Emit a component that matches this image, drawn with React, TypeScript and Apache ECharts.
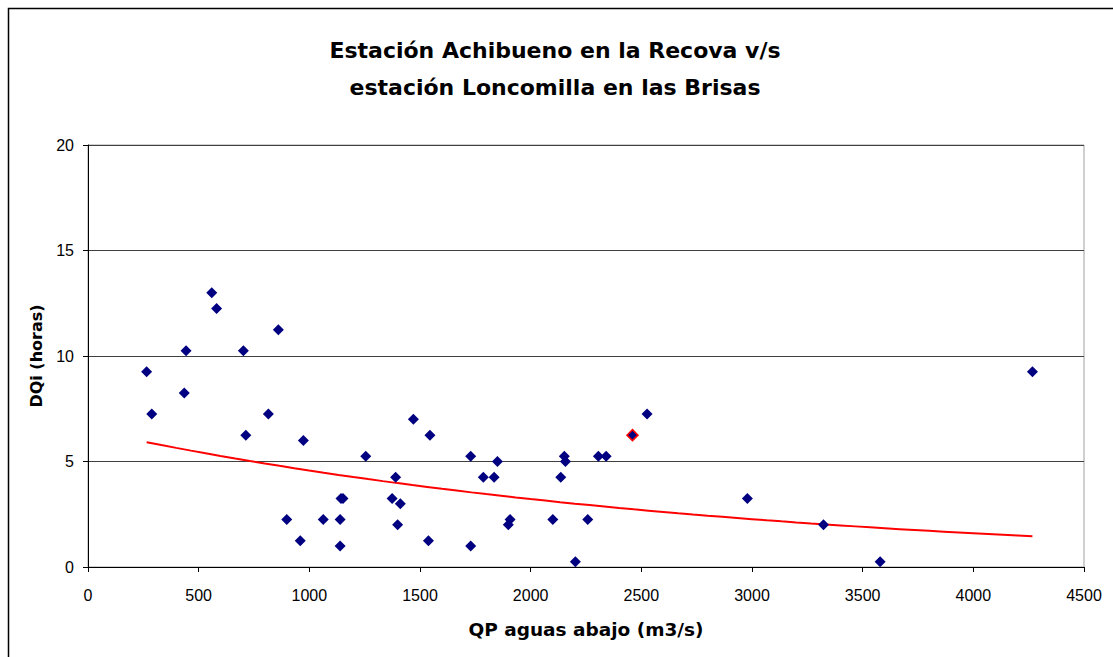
import React, { useEffect, useRef } from "react";
import * as echarts from "echarts";

const titleText = "Estación Achibueno en la Recova v/s\nestación Loncomilla en las Brisas";
const xAxisTitle = "QP aguas abajo (m3/s)";
const yAxisTitle = "DQi (horas)";

const qpValues = [
  265, 288, 443, 435, 559, 581, 702, 860, 815, 713, 973, 1255, 1143, 1152, 898, 1063,
  1139, 959, 1139, 1470, 1545, 1390, 1374, 1411, 1399, 1538, 1729, 1786, 1835, 1850,
  1729, 1907, 1899, 2100, 2136, 2152, 2157, 2202, 2258, 2306, 2341, 2460, 2526, 2979,
  3323, 3579, 4267,
];
const dqiValues = [
  9.25, 7.25, 10.25, 8.25, 13.0, 12.25, 10.25, 11.25, 7.25, 6.25, 6.0, 5.25, 3.25, 3.25,
  2.25, 2.25, 2.25, 1.25, 1.0, 7.0, 6.25, 4.25, 3.25, 3.0, 2.0, 1.25, 5.25, 4.25, 4.25,
  5.0, 1.0, 2.25, 2.0, 2.25, 4.25, 5.25, 5.0, 0.25, 2.25, 5.25, 5.25, 6.25, 7.25, 3.25,
  2.0, 0.25, 9.25,
];
const highlightedIndex = 41;

const xTicks = { min: 0, max: 4500, interval: 500 };
const yTicks = { min: 0, max: 20, interval: 5 };

// Exponential trendline (least squares on ln y), as the spreadsheet computes it
function exponentialTrend(xs: number[], ys: number[]) {
  const n = xs.length;
  let sx = 0, sy = 0, sxx = 0, sxy = 0;
  for (let i = 0; i < n; i++) {
    const ly = Math.log(ys[i]);
    sx += xs[i];
    sy += ly;
    sxx += xs[i] * xs[i];
    sxy += xs[i] * ly;
  }
  const b = (n * sxy - sx * sy) / (n * sxx - sx * sx);
  const lnA = (sy - b * sx) / n;
  const xmin = Math.min(...xs);
  const xmax = Math.max(...xs);
  const pts: number[][] = [];
  const steps = 60;
  for (let i = 0; i <= steps; i++) {
    const x = xmin + ((xmax - xmin) * i) / steps;
    pts.push([x, Math.exp(lnA + b * x)]);
  }
  return pts;
}

export default function App() {
  const ref = useRef<HTMLDivElement>(null);
  useEffect(() => {
    if (!ref.current) return;
    const chart = echarts.init(ref.current, undefined, { renderer: "svg" });
    const font = "'Liberation Sans', Arial, sans-serif";
    const boldFont = "'DejaVu Sans', 'Liberation Sans', Arial, sans-serif";
    const points = qpValues.map((x, i) => {
      const item: any = { value: [x, dqiValues[i]] };
      if (i === highlightedIndex) {
        item.itemStyle = { borderColor: "#ff0000", borderWidth: 1.5 };
      }
      return item;
    });
    chart.setOption({
      animation: false,
      backgroundColor: "#ffffff",
      textStyle: { fontFamily: font },
      title: {
        text: titleText,
        left: 550,
        textAlign: "center",
        top: 27,
        textStyle: {
          fontFamily: boldFont,
          fontSize: 22,
          fontWeight: "bold",
          color: "#000",
          lineHeight: 37,
        },
      },
      graphic: [
        {
          type: "rect",
          shape: { x: 8.5, y: 8.5, width: 1200, height: 800 },
          style: { fill: "none", stroke: "#000", lineWidth: 1.5 },
          silent: true,
          z: -1,
        },
      ],
      grid: {
        left: 88,
        top: 145,
        width: 996,
        height: 422,
        show: true,
        borderColor: "#a0a0a0",
        borderWidth: 1,
        backgroundColor: "transparent",
      },
      xAxis: {
        type: "value",
        min: xTicks.min,
        max: xTicks.max,
        interval: xTicks.interval,
        name: xAxisTitle,
        nameLocation: "middle",
        nameGap: 53,
        nameTextStyle: { fontFamily: boldFont, fontSize: 18.5, fontWeight: "bold", color: "#000" },
        axisLine: { show: true, lineStyle: { color: "#000", width: 1 } },
        axisTick: { show: true, length: 5, lineStyle: { color: "#000" } },
        axisLabel: {
          fontFamily: font,
          fontSize: 16,
          color: "#000",
          margin: 20,
          formatter: (v: number) => String(v),
        },
        splitLine: { show: false },
      },
      yAxis: {
        type: "value",
        min: yTicks.min,
        max: yTicks.max,
        interval: yTicks.interval,
        name: yAxisTitle,
        nameLocation: "middle",
        nameGap: 44,
        nameTextStyle: { fontFamily: boldFont, fontSize: 16, fontWeight: "bold", color: "#000" },
        axisLine: { show: true, lineStyle: { color: "#000", width: 1 } },
        axisTick: { show: true, length: 5, lineStyle: { color: "#000" } },
        axisLabel: {
          fontFamily: font,
          fontSize: 16,
          color: "#000",
          margin: 14,
          formatter: (v: number) => String(v),
        },
        splitLine: { show: true, lineStyle: { color: "#404040", width: 1 } },
      },
      series: [
        {
          type: "scatter",
          name: "DQi",
          symbol: "diamond",
          symbolSize: 11,
          itemStyle: { color: "#000080", opacity: 1 },
          data: points,
          z: 3,
        },
        {
          type: "line",
          name: "Tendencia",
          showSymbol: false,
          symbol: "none",
          lineStyle: { color: "#ff0000", width: 2 },
          data: exponentialTrend(qpValues, dqiValues),
          z: 2,
        },
      ],
    });
    return () => chart.dispose();
  }, []);
  return (
    <div
      ref={ref}
      style={{ position: "absolute", left: 0, top: 0, width: 1113, height: 657 }}
    />
  );
}
